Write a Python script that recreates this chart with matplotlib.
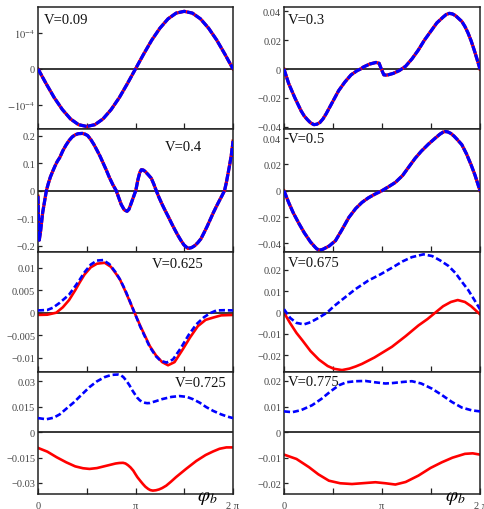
import numpy as np
import matplotlib
matplotlib.use("Agg")
import matplotlib.pyplot as plt

plt.rcParams['font.family'] = ['Liberation Serif', 'DejaVu Serif']
plt.rcParams['mathtext.fontset'] = 'stix'

TWO_PI = 2 * np.pi

# ---- data (x in radians) ----
# V=0.09 (both curves coincide), units 1e-4
x_009 = np.arange(25) * np.pi / 12
y_009 = [0, -0.41, -0.80, -1.13, -1.39, -1.55, -1.60, -1.55, -1.39, -1.13, -0.80, -0.41,
         0, 0.41, 0.80, 1.13, 1.39, 1.55, 1.60, 1.55, 1.39, 1.13, 0.80, 0.41, 0]

# V=0.3, units 1e-2
x_03 = [0, 0.15, 0.35, 0.55, 0.65, 0.75, 0.85, 0.96, 1.05, 1.15, 1.25, 1.35, 1.55, 1.75, 1.95,
        2.15, 2.35, 2.45, 2.55, 2.75, 2.95, 3.05, 3.12, 3.2, 3.3, 3.5, 3.7, 3.9, 4.1, 4.3, 4.5,
        4.7, 4.9, 5.1, 5.2, 5.3, 5.4, 5.5, 5.6, 5.7, 5.8, 5.9, 6.0, 6.1, 6.2, TWO_PI]
y_03 = [0, -1.0, -2.0, -2.9, -3.25, -3.5, -3.72, -3.85, -3.82, -3.7, -3.45, -3.1, -2.3, -1.5,
        -0.9, -0.4, -0.1, 0, 0.15, 0.35, 0.46, 0.4, 0.0, -0.4, -0.42, -0.3, -0.1, 0.2, 0.7,
        1.3, 2.0, 2.6, 3.2, 3.6, 3.78, 3.86, 3.82, 3.7, 3.5, 3.3, 2.95, 2.5, 1.95, 1.3, 0.6, 0]

# V=0.4
x_04 = [0, 0.02, 0.04, 0.08, 0.15, 0.27, 0.33, 0.4, 0.48, 0.55, 0.62, 0.7, 0.8, 0.9, 1.0, 1.1,
        1.2, 1.3, 1.43, 1.52, 1.6, 1.7, 1.8, 1.9, 2.0, 2.1, 2.2, 2.3, 2.41, 2.52, 2.6, 2.68,
        2.78, 2.87, 2.93, 2.99, 3.07, 3.15, 3.22, 3.28, 3.33, 3.39, 3.45, 3.55, 3.65, 3.73,
        3.81, 3.9, 4.0, 4.1, 4.2, 4.3, 4.4, 4.5, 4.6, 4.7, 4.83, 4.95, 5.05, 5.15, 5.25, 5.35,
        5.45, 5.55, 5.65, 5.75, 5.85, 5.93, 6.01, 6.07, 6.12, 6.17, 6.2, 6.23, 6.25, 6.27,
        TWO_PI]
y_04 = [-0.02, -0.12, -0.18, -0.15, -0.08, 0.0, 0.025, 0.05, 0.072, 0.09, 0.106, 0.12, 0.145,
        0.165, 0.182, 0.195, 0.203, 0.207, 0.208, 0.205, 0.2, 0.186, 0.168, 0.147, 0.125, 0.1,
        0.075, 0.048, 0.022, 0.0, -0.025, -0.05, -0.07, -0.075, -0.068, -0.05, -0.025, 0.0,
        0.04, 0.066, 0.076, 0.075, 0.07, 0.058, 0.045, 0.024, 0.0, -0.025, -0.05, -0.073,
        -0.095, -0.118, -0.14, -0.161, -0.18, -0.197, -0.21, -0.207, -0.2, -0.189, -0.175,
        -0.153, -0.13, -0.105, -0.08, -0.057, -0.035, -0.018, 0.0, 0.03, 0.06, 0.09, 0.11,
        0.13, 0.15, 0.165, 0.18]

# V=0.5, units 1e-2
x_05 = [0, 0.15, 0.3, 0.48, 0.65, 0.85, 1.0, 1.05, 1.12, 1.18, 1.25, 1.45, 1.65, 1.85, 2.08,
        2.3, 2.5, 2.7, 2.9, 3.14, 3.35, 3.57, 3.8, 3.99, 4.2, 4.4, 4.63, 4.85, 5.0, 5.1, 5.17,
        5.25, 5.35, 5.45, 5.55, 5.7, 5.85, 6.0, 6.12, TWO_PI]
y_05 = [0, -0.9, -1.7, -2.5, -3.2, -3.9, -4.3, -4.42, -4.5, -4.5, -4.45, -4.2, -3.8, -3.0,
        -2.03, -1.35, -0.89, -0.55, -0.28, 0, 0.3, 0.63, 1.15, 1.77, 2.45, 3.0, 3.54, 4.0,
        4.3, 4.45, 4.5, 4.47, 4.35, 4.15, 3.9, 3.5, 2.8, 1.95, 1.2, 0]

# V=0.625, units 1e-3
x_0625_r = [0, 0.3, 0.59, 0.8, 1.0, 1.2, 1.34, 1.5, 1.7, 1.9, 2.15, 2.35, 2.5, 2.64, 2.8, 2.95,
            3.11, 3.3, 3.45, 3.6, 3.8, 4.0, 4.19, 4.4, 4.67, 4.9, 5.15, 5.4, 5.64, 5.9, TWO_PI]
y_0625_r = [-0.5, -0.45, 0, 1.2, 2.8, 5.0, 6.7, 8.5, 10.1, 10.9, 11.1, 10.2, 8.8, 7.4, 5.0, 2.6,
            0, -3.0, -5.2, -7.4, -9.5, -11.0, -11.7, -11.0, -8.1, -5.5, -3.0, -1.6, -1.1, -0.6,
            -0.5]
x_0625_b = [0, 0.3, 0.48, 0.7, 1.0, 1.2, 1.34, 1.5, 1.7, 1.9, 2.1, 2.3, 2.5, 2.64, 2.8, 2.95,
            3.11, 3.3, 3.45, 3.6, 3.8, 3.95, 4.14, 4.35, 4.6, 4.85, 5.1, 5.35, 5.55, 5.75, 6.0,
            TWO_PI]
y_0625_b = [0.5, 0.6, 1.1, 2.2, 4.0, 5.9, 7.3, 9.0, 10.7, 11.6, 11.7, 10.8, 9.0, 7.4, 5.2, 2.7,
            0, -3.2, -5.4, -7.6, -9.7, -10.7, -11.1, -10.4, -7.9, -5.0, -2.6, -1.0, -0.1, 0.5,
            0.55, 0.5]

# V=0.675, units 1e-2
x_0675_b = [0, 0.2, 0.4, 0.64, 0.85, 1.1, 1.38, 1.6, 1.9, 2.29, 2.7, 3.1, 3.46, 3.8, 4.1, 4.47,
            4.75, 5.0, 5.27, 5.5, 5.7, 5.91, 6.1, TWO_PI]
y_0675_b = [0.16, -0.25, -0.48, -0.55, -0.45, -0.25, 0.0, 0.3, 0.65, 1.1, 1.5, 1.8, 2.1, 2.4,
            2.6, 2.73, 2.65, 2.45, 2.19, 1.85, 1.45, 1.05, 0.6, 0.16]
x_0675_r = [0, 0.2, 0.4, 0.59, 0.85, 1.12, 1.4, 1.6, 1.86, 2.1, 2.3, 2.5, 2.9, 3.46, 3.9, 4.31,
            4.6, 4.85, 5.1, 5.35, 5.57, 5.8, 6.0, 6.15, TWO_PI]
y_0675_r = [0, -0.5, -0.95, -1.3, -1.8, -2.2, -2.5, -2.63, -2.69, -2.62, -2.52, -2.4, -2.1, -1.6,
            -1.1, -0.6, -0.3, 0, 0.3, 0.5, 0.59, 0.5, 0.3, 0.1, -0.08]

# V=0.725, units 1e-3
x_0725_b = [0, 0.27, 0.5, 0.7, 0.91, 1.15, 1.4, 1.66, 1.9, 2.15, 2.35, 2.45, 2.58, 2.67, 2.75,
            2.85, 2.95, 3.02, 3.1, 3.19, 3.28, 3.36, 3.45, 3.52, 3.6, 3.8, 4.0, 4.3, 4.56, 4.8,
            5.0, 5.21, 5.42, 5.65, 5.9, 6.1, TWO_PI]
y_0725_b = [8.3, 7.6, 8.5, 10.5, 13.8, 17.5, 22, 26.6, 30, 32.5, 33.7, 33.9, 34.0, 33.6, 32.5,
            30.3, 27.6, 25.2, 23, 20.5, 18.8, 17.8, 17.3, 17.1, 17.2, 18.3, 19.5, 20.8, 21.3,
            20.8, 19.4, 17.4, 14.8, 12.5, 10.5, 9.2, 8.3]
x_0725_r = [0, 0.3, 0.6, 0.91, 1.2, 1.45, 1.66, 1.9, 2.1, 2.3, 2.5, 2.62, 2.74, 2.82, 2.9, 2.98,
            3.07, 3.13, 3.2, 3.29, 3.38, 3.46, 3.55, 3.62, 3.7, 3.8, 3.9, 4.0, 4.13, 4.28, 4.45,
            4.77, 5.1, 5.4, 5.64, 5.85, 6.07, TWO_PI]
y_0725_r = [-9.3, -11.5, -14.8, -17.8, -20.2, -21.3, -21.7, -21.2, -20.3, -19.4, -18.5, -18.2,
            -18.1, -18.5, -19.5, -20.8, -22.7, -24.5, -26.5, -28.6, -30.6, -32.2, -33.5, -34.2,
            -34.5, -34.3, -33.8, -33.0, -31.6, -29.3, -26.5, -21.7, -17.0, -13.5, -11.4, -9.8,
            -9.0, -9.0]

# V=0.775, units 1e-3
x_0775_b = [0, 0.27, 0.55, 0.9, 1.2, 1.5, 1.76, 2.0, 2.3, 2.61, 2.9, 3.25, 3.5, 3.8, 4.1, 4.4,
            4.74, 5.05, 5.38, 5.7, 6.02, TWO_PI]
y_0775_b = [8.1, 7.8, 8.6, 10.5, 13.0, 16.0, 18.3, 19.5, 19.9, 20.0, 19.5, 19.0, 19.2, 19.6, 19.9,
            19.0, 17.0, 14.6, 11.8, 9.6, 8.5, 8.1]
x_0775_r = [0, 0.4, 0.8, 1.1, 1.44, 1.8, 2.18, 2.5, 2.93, 3.25, 3.57, 3.9, 4.31, 4.7, 5.06, 5.4,
            5.8, 6.05, TWO_PI]
y_0775_r = [-8.8, -10.5, -13.7, -16.5, -19.0, -20.0, -20.3, -20.0, -19.6, -20.0, -20.5, -19.5,
            -17.0, -14.0, -11.8, -10.0, -8.5, -8.3, -8.8]

# panel list: label, red (x, y), blue (x, y), scale, ylim, yticks, yticklabels, same-curve flag
panels = [
    ("V=0.09", (x_009, y_009), (x_009, y_009), 1e-4, (-1.67e-4, 1.72e-4),
     [-1e-4, 0, 1e-4], [r"$-10^{-4}$", "0", r"$10^{-4}$"], True),
    ("V=0.3", (x_03, y_03), (x_03, y_03), 1e-2, (-0.0415, 0.043),
     [-0.04, -0.02, 0, 0.02, 0.04], ["\u22120.04", "\u22120.02", "0", "0.02", "0.04"], True),
    ("V=0.4", (x_04, y_04), (x_04, y_04), 1.0, (-0.223, 0.224),
     [-0.2, -0.1, 0, 0.1, 0.2], ["\u22120.2", "\u22120.1", "0", "0.1", "0.2"], True),
    ("V=0.5", (x_05, y_05), (x_05, y_05), 1e-2, (-0.0466, 0.0469),
     [-0.04, -0.02, 0, 0.02, 0.04], ["\u22120.04", "\u22120.02", "0", "0.02", "0.04"], True),
    ("V=0.625", (x_0625_r, y_0625_r), (x_0625_b, y_0625_b), 1e-3, (-0.0132, 0.0135),
     [-0.01, -0.005, 0, 0.005, 0.01], ["\u22120.01", "\u22120.005", "0", "0.005", "0.01"], False),
    ("V=0.675", (x_0675_r, y_0675_r), (x_0675_b, y_0675_b), 1e-2, (-0.0278, 0.0284),
     [-0.02, -0.01, 0, 0.01, 0.02], ["\u22120.02", "\u22120.01", "0", "0.01", "0.02"], False),
    ("V=0.725", (x_0725_r, y_0725_r), (x_0725_b, y_0725_b), 1e-3, (-0.0365, 0.0355),
     [-0.03, -0.015, 0, 0.015, 0.03], ["\u22120.03", "\u22120.015", "0", "0.015", "0.03"], False),
    ("V=0.775", (x_0775_r, y_0775_r), (x_0775_b, y_0775_b), 1e-3, (-0.0242, 0.0235),
     [-0.02, -0.01, 0, 0.01, 0.02], ["\u22120.02", "\u22120.01", "0", "0.01", "0.02"], False),
]

# label positions in axes fraction
label_pos = [(0.03, 0.90), (0.02, 0.90), (0.65, 0.855), (0.02, 0.92),
             (0.585, 0.90), (0.02, 0.91), (0.70, 0.91), (0.02, 0.92)]

W, H = 484, 510
fig = plt.figure(figsize=(W / 100, H / 100), dpi=100)

col_x = [(38, 195), (284, 196)]
row_y = [(8, 130), (130, 253), (253, 373), (373, 495)]

for i, (lab, red, blue, sc, ylim, yt, ytl, same) in enumerate(panels):
    r, c = divmod(i, 2)
    x0, w = col_x[c]
    top, bot = row_y[r]
    ax = fig.add_axes([x0 / W, 1 - bot / H, w / W, (bot - top) / H])
    ax.axhline(0, color='black', lw=1.1, zorder=1)
    if same:
        ax.plot(red[0], np.array(red[1]) * sc, color='red', lw=2.3, zorder=2)
        ax.plot(blue[0], np.array(blue[1]) * sc, color='blue', lw=2.3,
                dashes=(2.4, 0.35), zorder=3)
    else:
        ax.plot(red[0], np.array(red[1]) * sc, color='red', lw=1.9, zorder=2)
        ax.plot(blue[0], np.array(blue[1]) * sc, color='blue', lw=1.9,
                dashes=(2.3, 1.1), zorder=3)
    ax.set_xlim(0, TWO_PI)
    ax.set_ylim(*ylim)
    ax.set_yticks(yt)
    ax.set_yticklabels(ytl)
    ax.set_xticks([0, np.pi, TWO_PI])
    ax.set_xticks([np.pi / 2, 3 * np.pi / 2], minor=True)
    ax.tick_params(axis='both', which='both', direction='in', top=False, right=False,
                   labelsize=7.5, labelcolor='#444444', color='#222222', width=0.9, pad=2)
    ax.tick_params(axis='x', which='major', length=4)
    ax.tick_params(axis='x', which='minor', length=4)
    ax.tick_params(axis='y', length=3)
    if r == 3:
        ax.set_xticklabels(["0", "\u03c0", "2 \u03c0"])
        ax.tick_params(axis='x', pad=5)
    else:
        ax.tick_params(axis='x', labelbottom=False)
    for s in ax.spines.values():
        s.set_linewidth(1.1)
        s.set_color('#222222')
    ax.text(label_pos[i][0], label_pos[i][1], lab, transform=ax.transAxes,
            fontsize=10.5, va='center', ha='left', color='#111111')

# axis variable labels
for xc in (207, 455):
    fig.text(xc / W, 1 - 499 / H, r"$\varphi_b$", fontsize=14, ha='center', va='center')

fig.savefig("out.png", dpi=100)
